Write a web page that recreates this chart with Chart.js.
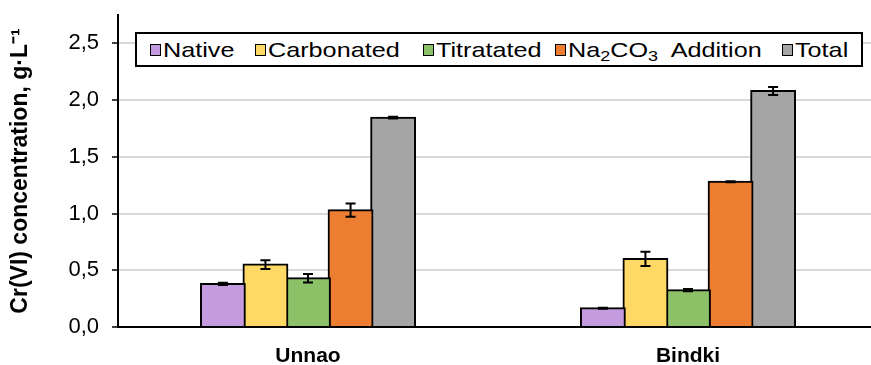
<!DOCTYPE html>
<html>
<head>
<meta charset="utf-8">
<script src="https://cdn.jsdelivr.net/npm/chart.js@4.4.1/dist/chart.umd.min.js"></script>
<style>
  body { margin: 0; background: #fff; overflow: hidden; }
  #wrap { position: relative; width: 871px; height: 365px; overflow: hidden; }
  #legend {
    position: absolute; left: 135px; top: 32px; width: 728px; height: 35px;
    border: 2px solid #000; background: #fff; box-sizing: border-box;
    font: 21px "Liberation Sans", Arial, sans-serif; color: #000;
  }
  #legend .item { position: absolute; top: 0; height: 31px; display: flex; align-items: center; white-space: nowrap; }
  #legend .box { width: 9px; height: 10px; border: 1.5px solid #000; margin-right: 2px; flex: none; }
  #legend .txt { display: inline-block; transform: scaleX(1.2); transform-origin: left center; }
  #legend sub { font-size: 15px; vertical-align: -4px; line-height: 0; }
</style>
</head>
<body>
<div id="wrap">
  <!-- plot runs a little past the right edge, as in the original -->
  <canvas id="chart" width="878" height="365"></canvas>
  <div id="legend"></div>
</div>
<script>
// data
const categories = ['Unnao', 'Bindki'];
const series_names = ['Native', 'Carbonated', 'Titratated', 'Na2CO3 Addition', 'Total'];
const series_labels = ['Native', 'Carbonated', 'Titratated', 'Na<sub>2</sub>CO<sub>3</sub>&ensp;Addition', 'Total'];
const native_vals = [0.38, 0.165];
const carbonated_vals = [0.55, 0.60];
const titratated_vals = [0.43, 0.325];
const na2co3_vals = [1.03, 1.28];
const total_vals = [1.845, 2.08];
const native_err = [0.01, 0.005];
const carbonated_err = [0.038, 0.063];
const titratated_err = [0.038, 0.01];
const na2co3_err = [0.058, 0.004];
const total_err = [0.008, 0.035];
const y_ticks = [0, 0.5, 1.0, 1.5, 2.0, 2.5];

const colors = ['#C49BDE', '#FFD966', '#8CC168', '#ED7D31', '#A5A5A5'];
const values = [native_vals, carbonated_vals, titratated_vals, na2co3_vals, total_vals];
const errors = [native_err, carbonated_err, titratated_err, na2co3_err, total_err];

Chart.defaults.font.family = '"Liberation Sans", Arial, sans-serif';
Chart.defaults.color = '#000';

// Plugin to draw the error bars
const errorBars = {
  id: 'errorBars',
  afterDatasetsDraw(chart) {
    const ctx = chart.ctx;
    const y = chart.scales.y;
    ctx.save();
    ctx.strokeStyle = '#000';
    ctx.lineWidth = 2;
    chart.data.datasets.forEach((ds, i) => {
      chart.getDatasetMeta(i).data.forEach((bar, j) => {
        const v = ds.data[j], e = ds.errors[j];
        const top = y.getPixelForValue(v + e);
        const bot = y.getPixelForValue(v - e);
        ctx.beginPath();
        ctx.moveTo(bar.x, top); ctx.lineTo(bar.x, bot);
        ctx.moveTo(bar.x - 5, top); ctx.lineTo(bar.x + 5, top);
        ctx.moveTo(bar.x - 5, bot); ctx.lineTo(bar.x + 5, bot);
        ctx.stroke();
      });
    });
    ctx.restore();
  }
};

const data = {
  labels: categories,
  datasets: series_names.map((name, i) => ({
    label: name,
    data: values[i],
    errors: errors[i],
    backgroundColor: colors[i],
    borderColor: '#000',
    borderWidth: 2,
    inflateAmount: 1,
    barPercentage: 1.03,
    categoryPercentage: 0.56
  }))
};

const config = {
  type: 'bar',
  data: data,
  options: {
    responsive: false,
    animation: false,
    layout: { padding: { top: 15, right: 0 } },
    plugins: {
      legend: { display: false },
      tooltip: { enabled: false }
    },
    scales: {
      x: {
        grid: { display: false, drawTicks: false },
        border: { color: '#000', width: 2 },
        ticks: { padding: 17, font: { size: 21, weight: 'bold' } },
        afterFit: (s) => { s.height = 38; }
      },
      y: {
        min: 0,
        max: 2.75,
        afterBuildTicks: (s) => {
          s.ticks = [];
          for (let k = 0; k <= 11; k++) s.ticks.push({ value: k * 0.25 });
        },
        ticks: {
          padding: 13,
          font: { size: 22 },
          callback: (v) => y_ticks.some(t => Math.abs(t - v) < 1e-6) ? v.toFixed(1).replace('.', ',') : ''
        },
        grid: {
          tickLength: 6,
          lineWidth: 2,
          color: (c) => (c.tick && c.tick.value > 0 && y_ticks.some(t => Math.abs(t - c.tick.value) < 1e-6)) ? '#D9D9D9' : 'rgba(0,0,0,0)',
          tickColor: '#000',
          tickWidth: 1.5
        },
        border: { color: '#000', width: 2 },
        title: {
          display: true,
          text: 'Cr(VI) concentration, g·L⁻¹',
          font: { size: 23, weight: 'bold' },
          padding: { top: 7, bottom: 0 }
        },
        afterFit: (s) => {
          s.width = 118;
          s.paddingTop = 0;
          s.paddingBottom = 0;
        }
      }
    }
  },
  plugins: [errorBars]
};

new Chart(document.getElementById('chart'), config);

// Legend built from the same series
const legend_x = [13, 118, 286, 418, 645];
const legend = document.getElementById('legend');
series_labels.forEach((lab, i) => {
  const item = document.createElement('div');
  item.className = 'item';
  item.style.left = legend_x[i] + 'px';
  item.innerHTML = '<span class="box" style="background:' + colors[i] + '"></span><span class="txt">' + lab + '</span>';
  legend.appendChild(item);
});
</script>
</body>
</html>
